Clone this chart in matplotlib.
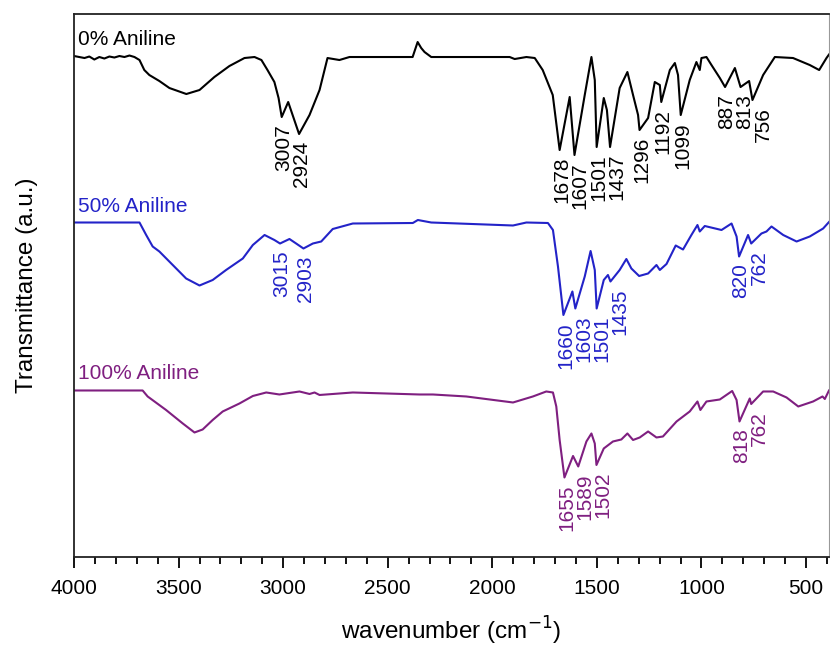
import numpy as np
import matplotlib
matplotlib.use('Agg')
import matplotlib.pyplot as plt
from matplotlib.ticker import MultipleLocator

plt.rcParams['font.family'] = ['Liberation Sans', 'DejaVu Sans']

# 0% aniline (black)
wn0 = [4000, 3975, 3950, 3927, 3903, 3879, 3855, 3831, 3807, 3783, 3759, 3735, 3711,
       3687, 3664, 3640, 3592, 3544, 3463, 3400, 3329, 3257, 3185, 3137, 3104, 3075,
       3042, 3022, 3007, 2976, 2924, 2874, 2826, 2788, 2731, 2683, 2381, 2357, 2340,
       2324, 2292, 1917, 1893, 1837, 1797, 1759, 1711, 1678, 1630, 1607, 1558, 1526,
       1510, 1501, 1467, 1452, 1437, 1391, 1354, 1327, 1303, 1296, 1255, 1223, 1199,
       1192, 1151, 1127, 1112, 1099, 1056, 1024, 1008, 1000, 976, 952, 912, 887, 840,
       813, 772, 756, 705, 649, 562, 482, 437, 402, 390]
t0 = [100.2, 100.0, 99.8, 100.1, 99.5, 100.0, 99.7, 100.1, 99.9, 100.2, 100.0, 100.3, 100.0,
      99.4, 97.4, 96.4, 95.2, 93.8, 92.6, 93.4, 96.0, 98.2, 99.8, 100.0, 99.4, 97.4,
      95.0, 91.8, 88.0, 91.0, 84.6, 88.4, 93.4, 99.8, 99.4, 100.0, 100.0, 103.0, 101.8,
      101.0, 100.0, 100.0, 99.6, 100.0, 99.8, 97.4, 92.4, 81.4, 92.0, 80.4, 92.4, 100.0,
      95.4, 82.0, 91.8, 89.4, 82.0, 93.8, 97.0, 92.4, 88.4, 85.4, 87.8, 95.0, 94.4,
      91.0, 97.4, 98.8, 96.4, 88.4, 95.4, 99.0, 97.4, 99.8, 100.0, 98.4, 95.8, 94.0, 97.8,
      94.0, 95.2, 91.4, 96.4, 100.0, 99.8, 98.4, 97.4, 99.8, 100.5]

# 50% aniline (blue)
wn50 = [4000, 3687, 3655, 3624, 3592, 3528, 3464, 3400, 3337, 3273, 3193, 3145, 3089,
        3042, 3015, 2970, 2938, 2903, 2858, 2818, 2763, 2667, 2380, 2356, 2292, 1901,
        1837, 1734, 1710, 1686, 1660, 1617, 1603, 1558, 1530, 1510, 1501, 1467, 1447,
        1435, 1391, 1359, 1335, 1298, 1255, 1215, 1199, 1167, 1123, 1088, 1048, 1019,
        1008, 984, 904, 856, 832, 820, 777, 762, 713, 689, 665, 609, 545, 482, 418, 390]
t50 = [66.9, 66.9, 64.4, 62.1, 61.1, 58.4, 55.7, 54.3, 55.4, 57.4, 59.7, 62.4, 64.4,
       63.4, 62.7, 63.6, 62.7, 61.7, 62.7, 63.1, 65.6, 66.7, 66.8, 67.4, 66.9, 66.3,
       66.9, 66.8, 65.4, 58.1, 48.4, 53.1, 49.7, 56.1, 61.2, 57.4, 49.7, 55.4, 56.4,
       55.1, 57.4, 59.6, 57.7, 56.2, 56.7, 58.4, 57.4, 58.6, 62.3, 61.5, 64.4, 66.4,
       65.1, 66.2, 65.4, 66.7, 64.1, 60.1, 64.4, 62.7, 64.7, 65.1, 66.1, 64.4, 63.1, 64.1, 65.7, 67.0]

# 100% aniline (purple)
wn100 = [4000, 3672, 3648, 3560, 3480, 3424, 3385, 3337, 3289, 3209, 3145, 3081, 3018,
         2954, 2922, 2874, 2850, 2826, 2667, 2348, 2284, 2124, 1901, 1806, 1742, 1710,
         1694, 1678, 1655, 1614, 1589, 1550, 1526, 1510, 1502, 1467, 1423, 1383, 1354,
         1327, 1295, 1255, 1215, 1184, 1119, 1056, 1019, 1005, 976, 912, 853, 832, 818,
         769, 762, 705, 657, 593, 537, 466, 421, 410, 390]
t100 = [33.3, 33.3, 32.1, 29.4, 26.7, 24.9, 25.5, 27.4, 29.1, 30.7, 32.2, 32.9, 32.5,
        32.9, 33.1, 32.6, 32.9, 32.4, 32.9, 32.5, 32.5, 32.1, 30.9, 32.1, 33.1, 32.9,
        30.1, 23.4, 15.9, 20.2, 18.1, 23.1, 24.7, 22.7, 18.4, 21.7, 23.1, 23.5, 24.7,
        23.4, 23.9, 25.1, 23.9, 24.1, 27.1, 29.1, 31.1, 29.4, 31.1, 31.5, 33.2, 31.4, 27.1,
        31.7, 30.6, 33.1, 33.1, 31.9, 30.1, 31.1, 32.1, 31.6, 33.3]

names = ['0% Aniline', '50% Aniline', '100% Aniline']
colors = ['black', '#2323c8', '#7f1f80']

peaks0 = [3007, 2924, 1678, 1607, 1501, 1437, 1296, 1192, 1099, 887, 813, 756]
peaks50 = [3015, 2903, 1660, 1603, 1501, 1435, 820, 762]
peaks100 = [1655, 1589, 1502, 818, 762]

fig = plt.figure(figsize=(8.3, 6.49), dpi=100)
ax = fig.add_axes([0.0892, 0.1418, 0.9096, 0.8366])
ax.set_xlim(4000, 390)
ax.set_ylim(0, 108.6)

spectra = [(wn0, t0, peaks0), (wn50, t50, peaks50), (wn100, t100, peaks100)]
gap = 18  # min pixel distance between neighbouring peak labels
for (wn, t, peaks), name, col in zip(spectra, names, colors):
    wn = np.array(wn)
    t = np.array(t)
    ax.plot(wn, t, color=col, lw=1.5)
    ax.text(3980, t[0] + 3.3, name, color=col, fontsize=15, ha='left', va='center')

    # push crowded labels apart (left to right on screen)
    ymins = [np.interp(p, wn[::-1], t[::-1]) for p in peaks]
    px = [ax.transData.transform((p, y))[0] for p, y in zip(peaks, ymins)]
    pos = []
    for x in px:
        if pos and x - pos[-1] < gap:
            x = pos[-1] + gap
        pos.append(x)
    for p, y, x0, x1 in zip(peaks, ymins, px, pos):
        dx = (x1 - x0 + 2) * 72 / fig.dpi
        ax.annotate(str(p), (p, y), xytext=(dx, -5), textcoords='offset points',
                    color=col, fontsize=15, rotation=90, ha='center', va='top')

ax.xaxis.set_major_locator(MultipleLocator(500))
ax.xaxis.set_minor_locator(MultipleLocator(100))
ax.tick_params(axis='x', which='major', direction='out', length=8, width=1.3,
               labelsize=15, pad=8)
ax.tick_params(axis='x', which='minor', direction='out', length=5, width=1.3)
ax.set_yticks([])
for s in ['left', 'bottom', 'top']:
    ax.spines[s].set_linewidth(1.3)
    ax.spines[s].set_color('#222222')
ax.spines['right'].set_color('#999999')

ax.set_xlabel('wavenumber (cm$^{-1}$)', fontsize=17.5, labelpad=12)
ax.set_ylabel('Transmittance (a.u.)', fontsize=17.5, labelpad=26)

plt.savefig('out.png', dpi=100)
